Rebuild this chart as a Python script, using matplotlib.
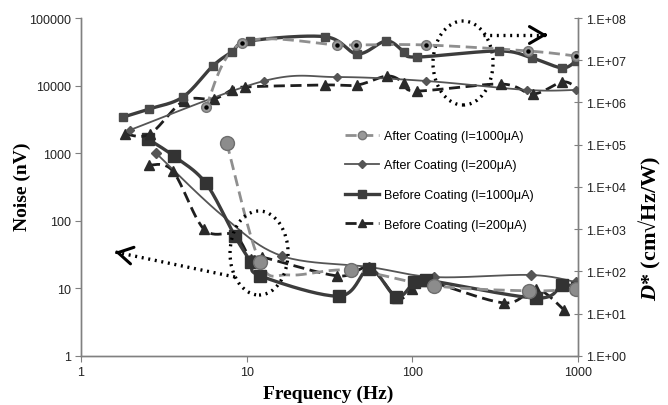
import numpy as np
import matplotlib
matplotlib.use("Agg")
import matplotlib.pyplot as plt
from matplotlib.lines import Line2D
from matplotlib.patches import Ellipse
from matplotlib.ticker import FixedLocator, FuncFormatter, NullLocator

plt.rcParams["font.family"] = ["Liberation Sans", "DejaVu Sans"]
plt.rcParams["mathtext.fontset"] = "custom"
plt.rcParams["mathtext.rm"] = "Liberation Serif:bold"
plt.rcParams["mathtext.bfit"] = "Liberation Serif:bold:italic"

labels = [
    "After Coating (I=1000\u03bcA)",
    "After Coating (I=200\u03bcA)",
    "Before Coating (I=1000\u03bcA)",
    "Before Coating (I=200\u03bcA)",
]

# detectivity D* (right axis)
freq_a1_d = [5.66, 9.33, 35.3, 46.0, 121, 500, 972]
dstar_a1 = [7.8e5, 2.56e7, 2.3e7, 2.3e7, 2.3e7, 1.66e7, 1.26e7]
freq_a2_d = [1.97, 12.7, 35.3, 121, 493, 972]
dstar_a2 = [2.23e5, 3.23e6, 4.0e6, 3.23e6, 1.98e6, 1.98e6]
freq_b1_d = [1.79, 2.57, 4.12, 6.24, 8.12, 10.4, 29.9, 46.6, 69.7, 89.5, 106, 334, 528, 801, 972]
dstar_b1 = [4.5e5, 7.0e5, 1.35e6, 7.3e6, 1.57e7, 2.86e7, 3.6e7, 1.41e7, 2.86e7,
            1.57e7, 1.19e7, 1.66e7, 1.13e7, 6.6e6, 9.6e6]
freq_b2_d = [1.84, 2.60, 4.17, 6.33, 8.12, 9.72, 29.5, 46.6, 70.7, 89.5, 106, 344, 536, 801, 972]
dstar_b2 = [1.8e5, 1.8e5, 1.09e6, 1.21e6, 1.98e6, 2.33e6, 2.6e6, 2.6e6, 4.24e6,
            2.9e6, 1.87e6, 2.74e6, 1.59e6, 3.06e6, 2.33e6]

# noise (left axis)
freq_a1_n = [7.58, 12.0, 18.1, 42.9, 136, 507, 972]
noise_a1 = [1416, 24.6, 15.8, 18.7, 10.9, 9.2, 9.8]
freq_a2_n = [2.83, 7.17, 16.3, 55.1, 136, 521, 972]
noise_a2 = [1007, 118, 30.2, 20.7, 14.7, 15.8, 12.4]
freq_b1_n = [2.53, 3.63, 5.66, 8.47, 10.6, 12.1, 36.3, 55.1, 80.1, 103, 121, 558, 801, 986]
noise_b1 = [1622, 909, 362, 59.6, 24.6, 15.3, 7.7, 19.4, 7.5, 12.4, 13.3, 7.2, 11.2, 10.1]
freq_b2_n = [2.57, 3.58, 5.51, 8.47, 10.6, 12.3, 35.3, 55.1, 81.2, 100, 121, 358, 558, 824]
noise_b2 = [669, 545, 75.6, 61.6, 27.2, 29.1, 15.3, 20.0, 7.2, 9.8, 12.9, 6.1, 9.8, 4.8]


def smooth(x, y, n=24):
    # Excel-like smoothed line: cubic Bezier through points, done in log space
    p = np.column_stack([np.log10(x), np.log10(y)])
    out = [p[0]]
    t = np.linspace(0, 1, n)[1:, None]
    for i in range(len(p) - 1):
        p0 = p[i - 1] if i > 0 else p[i]
        p1, p2 = p[i], p[i + 1]
        p3 = p[i + 2] if i + 2 < len(p) else p2
        c1 = p1 + (p2 - p0) / 6
        c2 = p2 - (p3 - p1) / 6
        seg = (1 - t) ** 3 * p1 + 3 * (1 - t) ** 2 * t * c1 + 3 * (1 - t) * t ** 2 * c2 + t ** 3 * p2
        out.extend(seg)
    out = np.array(out)
    return 10 ** out[:, 0], 10 ** out[:, 1]


styles = {
    "a1": dict(color="#8f8f8f", ls=(0, (4, 2)), lw=2.0),
    "a2": dict(color="#555555", ls="-", lw=1.3),
    "b1": dict(color="#3c3c3c", ls="-", lw=2.4),
    "b2": dict(color="#1e1e1e", ls=(0, (4, 2)), lw=2.0),
}


def draw(ax, x, y, key, marker, ms, mfc, mec, show=None, dot=False):
    sx, sy = smooth(x, y)
    ax.plot(sx, sy, zorder=2, **styles[key])
    x = np.asarray(x)
    y = np.asarray(y)
    idx = np.arange(len(x)) if show is None else np.asarray(show)
    ax.plot(x[idx], y[idx], ls="none", marker=marker, ms=ms, mfc=mfc, mec=mec, mew=1.0, zorder=3)
    if dot:
        ax.plot(x[idx], y[idx], ls="none", marker="o", ms=2.2, color="black", zorder=4)


fig = plt.figure(figsize=(6.68, 4.06), dpi=100)
ax = fig.add_axes([0.1213, 0.1207, 0.744, 0.8325])
ax2 = ax.twinx()

ax.set_xscale("log")
ax.set_yscale("log")
ax2.set_yscale("log")
ax.set_xlim(1, 1000)
ax.set_ylim(1, 100000)
ax2.set_ylim(1, 1e8)

# D* curves
draw(ax2, freq_b2_d, dstar_b2, "b2", "^", 6.5, "#2a2a2a", "#2a2a2a", show=range(14))
draw(ax2, freq_a2_d, dstar_a2, "a2", "D", 4.0, "#555555", "#555555")
draw(ax2, freq_b1_d, dstar_b1, "b1", "s", 5.5, "#4a4a4a", "#4a4a4a")
draw(ax2, freq_a1_d, dstar_a1, "a1", "o", 7.0, "#999999", "#777777", dot=True)

# noise curves
draw(ax, freq_b2_n, noise_b2, "b2", "^", 7.0, "#2a2a2a", "#2a2a2a")
draw(ax, freq_a2_n, noise_a2, "a2", "D", 5.0, "#555555", "#555555", show=[0, 2, 3, 4, 5, 6])
draw(ax, freq_b1_n, noise_b1, "b1", "s", 8.0, "#333333", "#333333")
draw(ax, freq_a1_n, noise_a1, "a1", "o", 10.0, "#8c8c8c", "#6e6e6e", show=[0, 1, 3, 4, 5, 6])

# ticks
ax.xaxis.set_major_locator(FixedLocator([1, 10, 100, 1000]))
ax.xaxis.set_minor_locator(NullLocator())
ax.xaxis.set_major_formatter(FuncFormatter(lambda v, _: f"{int(round(v))}"))
ax.yaxis.set_major_locator(FixedLocator([1, 10, 100, 1000, 10000, 100000]))
ax.yaxis.set_minor_locator(NullLocator())
ax.yaxis.set_major_formatter(FuncFormatter(lambda v, _: f"{int(round(v))}"))
ax2.yaxis.set_major_locator(FixedLocator([10.0 ** k for k in range(9)]))
ax2.yaxis.set_minor_locator(NullLocator())
ax2.yaxis.set_major_formatter(FuncFormatter(lambda v, _: f"1.E+{int(round(np.log10(v))):02d}"))

for a in (ax, ax2):
    a.spines["top"].set_visible(False)
    for s in a.spines.values():
        s.set_color("#808080")
        s.set_linewidth(1.0)
ax.tick_params(axis="both", which="major", labelsize=9, direction="out", length=4,
               color="#808080", labelcolor="#222222", pad=3)
ax2.tick_params(axis="y", which="major", labelsize=9, direction="inout", length=6,
                color="#808080", labelcolor="#222222", pad=3)

# axis titles
fig.text(328 / 668, 1 - 394 / 406, "Frequency (Hz)", ha="center", va="center",
         family="Liberation Serif", weight="bold", fontsize=14)
fig.text(22 / 668, 1 - 187 / 406, "Noise (nV)", ha="center", va="center", rotation=90,
         family="Liberation Serif", weight="bold", fontsize=14)
fig.text(650 / 668, 1 - 228 / 406, "$\\mathbfit{D}$* (cm\u221aHz/W)",
         ha="center", va="center", rotation=90,
         family="Liberation Serif", weight="bold", fontsize=16)

# legend
handles = [
    Line2D([], [], marker="o", ms=6, mfc="#999999", mec="#777777", **styles["a1"]),
    Line2D([], [], marker="D", ms=4, mfc="#555555", mec="#555555", **styles["a2"]),
    Line2D([], [], marker="s", ms=5.5, mfc="#3c3c3c", mec="#3c3c3c", **styles["b1"]),
    Line2D([], [], marker="^", ms=5.5, mfc="#2a2a2a", mec="#2a2a2a", **styles["b2"]),
]
fig.legend(handles, labels, loc="upper left", bbox_to_anchor=(345 / 668, 1 - 131 / 406),
           frameon=False, fontsize=9, handlelength=2.7, handletextpad=0.4,
           labelspacing=1.4, borderpad=0, borderaxespad=0)

# dotted ellipses and arrows
dots = (0, (0.6, 1.4))
for cx, cy, w, h in [(463, 64, 60, 84), (259, 254, 58, 84)]:
    ax.add_patch(Ellipse(((cx - 81) / 497, (357 - cy) / 338), w / 497, h / 338,
                         transform=ax.transAxes, fill=False, ls=dots,
                         lw=2.4, ec="black", zorder=5))

for (x0, y0), (x1, y1) in [((483, 36), (547, 36)), ((235, 278), (115, 253))]:
    p0 = ((x0 - 81) / 497, (357 - y0) / 338)
    p1 = ((x1 - 81) / 497, (357 - y1) / 338)
    ax.plot([p0[0], p1[0]], [p0[1], p1[1]], transform=ax.transAxes, color="black",
            ls=dots, lw=2.4, zorder=5)
    # open arrowhead: a very short solid segment carries only the head
    frac = 2.0 / np.hypot(x1 - x0, y1 - y0)
    pm = (p1[0] - (p1[0] - p0[0]) * frac, p1[1] - (p1[1] - p0[1]) * frac)
    ax.annotate("", xy=p1, xytext=pm, xycoords="axes fraction", textcoords="axes fraction",
                arrowprops=dict(arrowstyle="->,head_length=0.55,head_width=0.32", lw=2.2,
                                color="black", shrinkA=0, shrinkB=0, mutation_scale=19),
                zorder=6)

fig.savefig("out.png", dpi=100)
